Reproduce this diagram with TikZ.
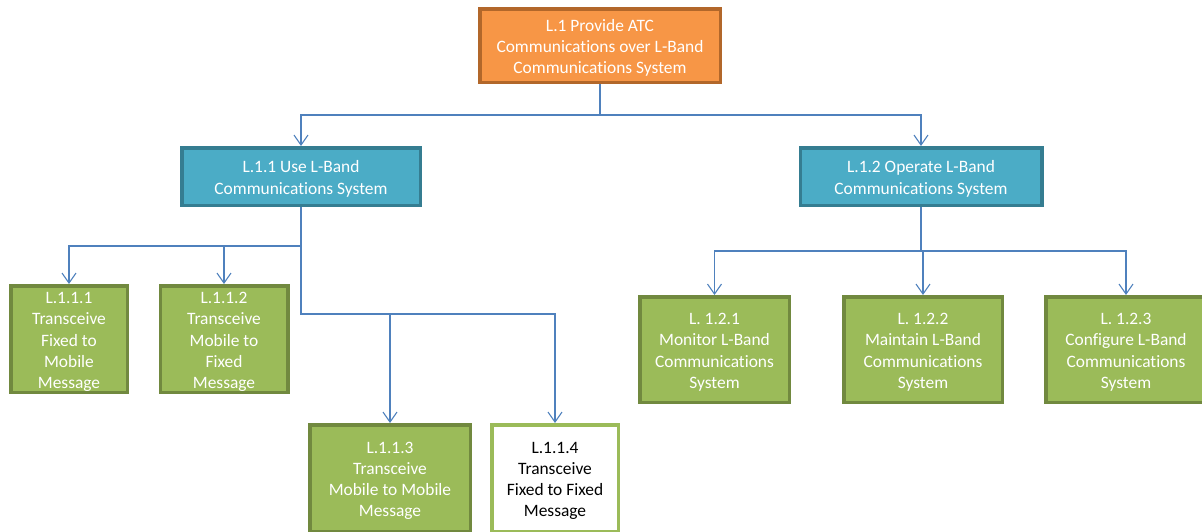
\documentclass[tikz,border=0pt]{standalone}
\usepackage{fontspec}
\setmainfont{Carlito}[Ligatures = NoCommon]
\usetikzlibrary{arrows.meta}

\definecolor{orgfill}{HTML}{F79646}
\definecolor{orgline}{HTML}{B2672A}
\definecolor{bluefill}{HTML}{4BACC6}
\definecolor{blueline}{HTML}{357D91}
\definecolor{grnfill}{HTML}{9BBB59}
\definecolor{grnline}{HTML}{71893F}
\definecolor{linkcol}{HTML}{4F81BD}

% taller first line, pushes the text a little lower in its box
\newcommand{\fs}{\rule{0pt}{17pt}}

\tikzset{
  box/.style = {draw, line width = 3.5pt, align = center, inner sep = 0pt,
                text = white, font = \fontsize{17.4}{21.3}\selectfont},
  topbox/.style = {box, fill = orgfill, draw = orgline},
  midbox/.style = {box, fill = bluefill, draw = blueline},
  leafbox/.style = {box, fill = grnfill, draw = grnline},
  plainbox/.style = {box, fill = white, draw = grnfill, text = black},
  link/.style = {draw = linkcol, line width = 1.1pt,
                 -{Straight Barb[length = 10pt, width = 14pt]}}
}

\begin{document}
\begin{tikzpicture}[x = 1pt, y = -1pt]
\clip (0,0) rectangle (1202,531);

% level 0
\node[topbox, minimum width = 240.5pt, minimum height = 73.5pt] (L1) at (600,45.5)
  {\fs L.1 Provide ATC\\Communications over L-Band\\Communications System};

% level 1
\node[midbox, minimum width = 238.5pt, minimum height = 57.5pt] (L11) at (301,176.5)
  {\fs L.1.1 Use L-Band\\Communications System};
\node[midbox, minimum width = 241.5pt, minimum height = 57.5pt] (L12) at (921,176.5)
  {\fs L.1.2 Operate L-Band\\Communications System};

% level 2, left
\node[leafbox, minimum width = 116.5pt, minimum height = 106.5pt] (L111) at (69,339)
  {\fs L.1.1.1\\Transceive\\Fixed to\\Mobile\\Message};
\node[leafbox, minimum width = 127.5pt, minimum height = 106.5pt] (L112) at (224,339)
  {\fs L.1.1.2\\Transceive\\Mobile to\\Fixed\\Message};
\node[leafbox, minimum width = 160.5pt, minimum height = 106.5pt] (L113) at (390,478)
  {\fs L.1.1.3\\Transceive\\Mobile to Mobile\\Message};
\node[plainbox, minimum width = 126.5pt, minimum height = 106.5pt] (L114) at (555,478)
  {\fs L.1.1.4\\Transceive\\Fixed to Fixed\\Message};

% level 2, right
\node[leafbox, minimum width = 149.5pt, minimum height = 105.5pt] (L121) at (714.5,349.5)
  {\fs L. 1.2.1\\Monitor L-Band\\Communications\\System};
\node[leafbox, minimum width = 158.5pt, minimum height = 105.5pt] (L122) at (923,349.5)
  {\fs L. 1.2.2\\Maintain L-Band\\Communications\\System};
\node[leafbox, minimum width = 160.5pt, minimum height = 105.5pt] (L123) at (1126,349.5)
  {\fs L. 1.2.3\\Configure L-Band\\Communications\\System};

% junctions
\coordinate (j1) at (600,115);
\coordinate (j11) at (301,246);
\coordinate (j11b) at (301,314);
\coordinate (j12) at (921,251);

% connectors
\draw[link] (L1) -- (j1) -| (L11.north);
\draw[link] (j1) -| (L12.north);
\draw[link] (L11) -- (j11b) -| (L113.north);
\draw[link] (j11b) -| (L114.north);
\draw[link] (j11) -| (L111.north);
\draw[link] (j11) -| (L112.north);
\draw[link] (L12) -- (j12) -| (L121.north);
\draw[link] (j12) -| (L122.north);
\draw[link] (j12) -| (L123.north);
\end{tikzpicture}
\end{document}
